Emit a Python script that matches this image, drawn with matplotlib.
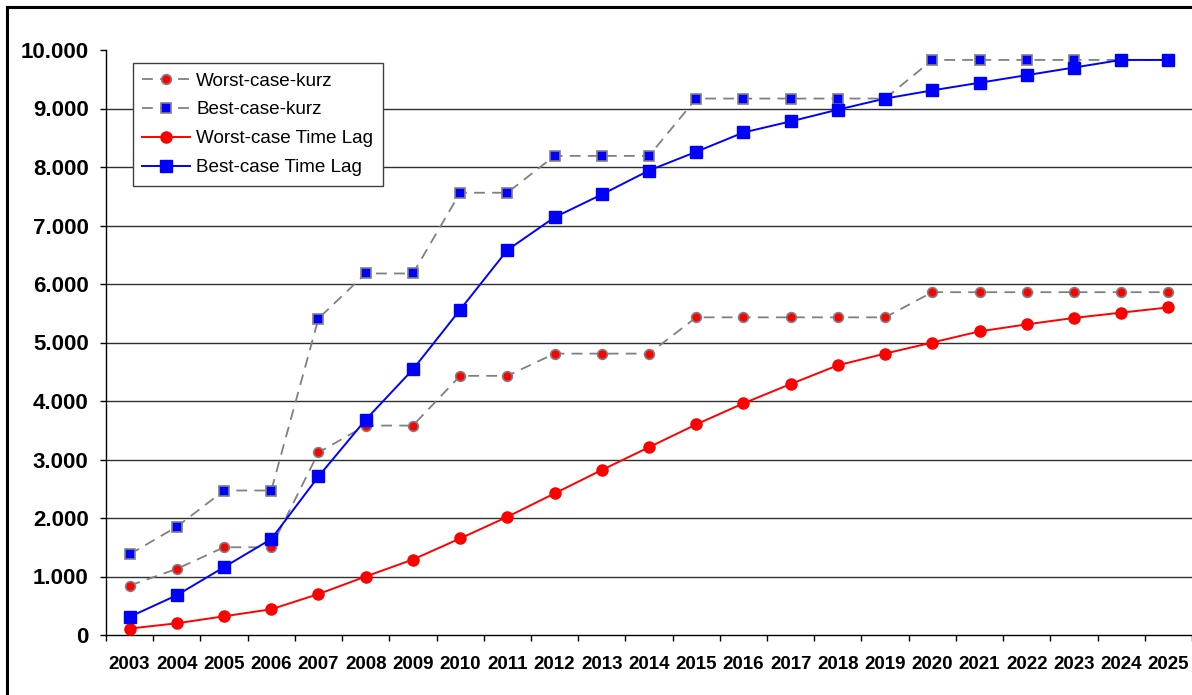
import matplotlib
matplotlib.use('Agg')
import matplotlib.pyplot as plt
from matplotlib.patches import Rectangle
from matplotlib.ticker import FuncFormatter

plt.rcParams['font.family'] = ['Liberation Sans', 'DejaVu Sans']

years = [str(y) for y in range(2003, 2026)]
worst_kurz = [845, 1130, 1500, 1500, 3120, 3580, 3580, 4430, 4430, 4810, 4810, 4810,
              5430, 5430, 5430, 5430, 5430, 5860, 5860, 5860, 5860, 5860, 5860]
best_kurz = [1380, 1850, 2470, 2470, 5410, 6180, 6180, 7560, 7560, 8190, 8190, 8190,
             9170, 9170, 9170, 9170, 9170, 9830, 9830, 9830, 9830, 9830, 9830]
worst_lag = [110, 200, 320, 440, 700, 1000, 1290, 1650, 2020, 2420, 2820, 3210,
             3600, 3960, 4290, 4610, 4810, 5000, 5190, 5310, 5420, 5510, 5600]
best_lag = [310, 680, 1160, 1640, 2710, 3680, 4540, 5560, 6580, 7140, 7530, 7940,
            8260, 8590, 8780, 8980, 9170, 9310, 9440, 9570, 9700, 9830, 9830]
yticks = list(range(0, 10001, 1000))

fig = plt.figure(figsize=(11.92, 6.95), dpi=100)
ax = fig.add_axes([106 / 1192, 1 - 635 / 695, 1 - 106 / 1192, 585 / 695])

# frame around the whole picture (right/bottom edges are cut off)
fig.patches.append(Rectangle((7 / 1192, -0.1), 1.2, 1 - 7 / 695 + 0.1, transform=fig.transFigure,
                             fill=False, edgecolor='black', linewidth=2.2, zorder=10))

x = [i + 0.5 for i in range(len(years))]

for v in yticks[1:-1]:
    ax.axhline(v, color='#303030', linewidth=1.0, zorder=1)

ax.plot(x, worst_kurz, color='#808080', linestyle=(0, (6, 4)), linewidth=1.3,
        marker='o', markersize=7, markerfacecolor='#FF0000', markeredgecolor='#808080',
        markeredgewidth=1.2, label='Worst-case-kurz', zorder=3)
ax.plot(x, best_kurz, color='#808080', linestyle=(0, (6, 4)), linewidth=1.3,
        marker='s', markersize=6.5, markerfacecolor='#0000FF', markeredgecolor='#808080',
        markeredgewidth=1.2, label='Best-case-kurz', zorder=3)
ax.plot(x, worst_lag, color='#FF0000', linewidth=1.4, marker='o', markersize=8,
        markeredgecolor='#FF0000', label='Worst-case Time Lag', zorder=4)
ax.plot(x, best_lag, color='#0000FF', linewidth=1.4, marker='s', markersize=8,
        markeredgecolor='#0000FF', label='Best-case Time Lag', zorder=4)

ax.set_xlim(0, len(years))
ax.set_ylim(0, 10000)
ax.set_yticks(yticks)
ax.yaxis.set_major_formatter(FuncFormatter(lambda v, p: '{:,.0f}'.format(v).replace(',', '.')))
ax.set_xticks(x)
ax.set_xticklabels(years)
ax.set_xticks(range(len(years) + 1), minor=True)
ax.tick_params(axis='x', which='major', length=0, pad=15, labelsize=13.5)
ax.tick_params(axis='x', which='minor', length=4.5, width=1, direction='out')
ax.tick_params(axis='y', length=4.5, width=1, pad=8, labelsize=16)
for lbl in ax.get_xticklabels() + ax.get_yticklabels():
    lbl.set_fontweight('bold')

for s in ['top', 'right']:
    ax.spines[s].set_visible(False)
for s in ['left', 'bottom']:
    ax.spines[s].set_linewidth(1.0)
    ax.spines[s].set_color('black')

leg = ax.legend(loc='upper left', bbox_to_anchor=(0.0249, 0.978), fontsize=13.6,
                frameon=True, fancybox=False, edgecolor='#404040', framealpha=1,
                handlelength=2.5, borderpad=0.5, labelspacing=0.62, handletextpad=0.35,
                borderaxespad=0)
leg.get_frame().set_linewidth(1.0)

fig.savefig('out.png', dpi=100)
